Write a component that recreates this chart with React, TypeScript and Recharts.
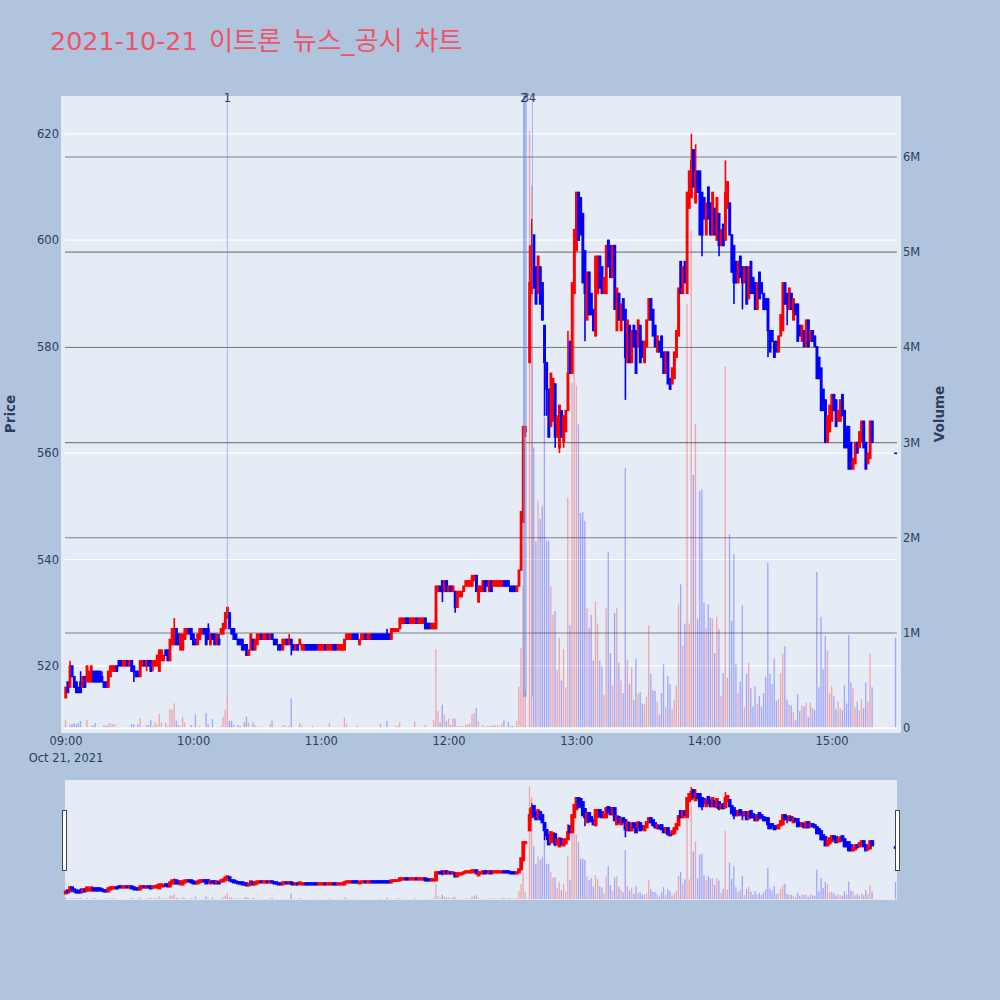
import React from 'react';
import { ComposedChart, Bar, XAxis, YAxis, CartesianGrid, ReferenceLine, ReferenceDot } from 'recharts';

// Each row: open, close, high, low, volume (thousands). Each array is one hour of one-minute rows.
const candles09 = [
[514,516,516,514,88],[517,515,517,515,7],[516,520,521,516,42],[520,518,520,518,42],[518,516,518,516,52],[517,515,517,515,42],[516,515,516,515,52],[517,515,519,515,77],[516,518,518,516,7],[518,516,518,516,7],
[517,520,520,517,91],[517,519,519,517,7],[517,520,520,517,25],[519,517,519,517,32],[519,517,519,517,56],[519,517,519,517,7],[519,517,519,517,14],[518,517,519,517,14],[517,516,517,516,32],[517,516,517,516,25],
[516,519,519,516,42],[518,520,520,518,56],[519,520,520,519,42],[519,520,520,519,42],[520,519,520,519,14],[521,520,521,520,10],[521,520,521,520,7],[520,521,521,520,7],[520,521,521,520,7],[521,520,521,520,7],
[520,521,521,520,10],[521,519,521,519,42],[520,519,520,517,42],[519,518,519,518,7],[519,518,519,518,42],[518,521,521,518,105],[520,521,521,520,7],[521,520,521,520,7],[520,521,521,519,35],[521,520,521,520,35],
[521,519,521,519,88],[520,521,521,519,25],[520,521,521,520,63],[520,522,522,520,42],[519,523,523,519,150],[521,523,523,521,60],[521,522,522,521,7],[523,522,523,522,56],[523,521,523,521,25],[521,525,525,521,203],
[524,527,527,524,193],[524,527,529,524,262],[527,524,527,524,80],[526,524,526,524,35],[523,526,526,523,25],[523,526,526,523,120],[525,527,527,525,60],[526,527,527,526,7],[527,526,527,526,7],[527,525,527,525,35],
];
const candles10 = [
[526,524,526,524,7],[525,524,525,524,143],[524,526,526,524,7],[525,527,527,525,25],[526,527,527,526,7],[527,526,527,526,7],[527,524,527,524,158],[527,525,528,525,42],[524,526,526,524,7],[526,525,526,525,98],
[526,524,526,524,7],[524,526,526,524,14],[525,524,526,524,14],[526,527,527,526,25],[526,528,528,526,120],[527,530,530,527,192],[529,531,531,529,346],[530,527,530,527,80],[527,526,527,526,80],[527,525,527,525,35],
[526,525,526,525,7],[525,524,525,524,35],[525,524,525,524,25],[525,523,525,523,7],[524,523,524,523,66],[524,522,524,522,122],[522,523,523,522,60],[523,526,526,523,7],[525,523,525,523,60],[523,525,525,523,32],
[524,526,526,524,18],[525,526,526,525,14],[526,525,526,525,14],[525,526,526,525,7],[525,526,526,525,7],[526,525,526,525,7],[525,526,526,525,42],[526,525,526,525,80],[525,524,525,524,7],[525,524,525,524,14],
[524,523,524,523,7],[524,523,524,523,7],[523,525,525,523,25],[524,525,525,524,32],[525,524,525,524,14],[524,525,526,524,25],[525,524,525,522,315],[524,523,524,523,7],[523,524,524,523,7],[524,523,524,523,7],
[524,525,525,524,56],[523,524,524,523,32],[523,524,524,523,7],[524,523,524,523,7],[524,523,524,523,7],[524,523,524,523,7],[524,523,524,523,25],[524,523,524,523,7],[524,523,524,523,7],[523,524,524,523,7],
];
const candles11 = [
[523,524,524,523,7],[523,524,524,523,7],[524,523,524,523,7],[523,524,524,523,7],[523,524,524,523,56],[523,524,524,523,7],[524,523,524,523,7],[524,523,524,523,7],[523,524,524,523,7],[523,524,524,523,7],
[523,524,524,523,7],[523,525,525,523,112],[525,526,526,525,50],[525,526,526,525,7],[525,526,526,525,7],[526,525,526,525,7],[526,525,526,525,7],[526,525,526,525,25],[524,525,525,524,7],[525,526,526,525,7],
[525,526,526,525,7],[526,525,526,525,7],[525,526,526,525,7],[525,526,526,525,7],[526,525,526,525,7],[526,525,526,525,7],[526,525,526,525,7],[526,525,526,525,7],[526,525,526,525,42],[526,525,526,525,7],
[526,525,526,525,7],[526,525,527,525,77],[526,525,526,525,7],[525,527,527,525,7],[526.5,527,527,526.5,7],[526.5,527,527,526.5,25],[526.5,527,527,526.5,25],[527,529,529,527,60],[528,529,529,528,7],[528,529,529,528,7],
[529,528,529,528,7],[529,528,529,528,7],[528,529,529,528,7],[528,529,529,528,7],[528,529,529,528,70],[529,528,529,528,7],[528,529,529,528,7],[528,529,529,528,7],[528,529,529,528,7],[529,527,529,527,32],
[528,527,528,527,7],[528,527,528,527,7],[527,528,528,527,7],[527,528,528,527,84],[527,535,535,527,830],[534,535,535,534,182],[535,534,535,534,60],[536,534,536,532,248],[534,536,536,534,143],[536,534,536,534,77],
];
const candles12 = [
[534,535,535,534,105],[535,534,535,534,35],[534,535,535,534,105],[534,531,534,530,100],[531,534,534,531,21],[533,534,534,533,21],[533,534,534,533,21],[534,535,535,534,25],[535,536,536,535,42],[535,536,536,535,42],
[535,536,536,535,49],[535,537,537,535,147],[536,537,537,536,158],[537,534,537,534,213],[532,535,535,532,77],[534,535,535,534,7],[534,536,536,534,35],[536,534,536,534,14],[536,535,536,535,21],[534,536,536,534,25],
[536,534,536,534,25],[535,536,536,535,32],[535,536,536,535,32],[535,536,536,535,32],[535,536,536,535,25],[535,536,536,535,46],[536,535,536,535,84],[536,535,536,535,14],[536,535,536,535,66],[535,534,535,534,25],
[535,534,535,534,25],[535,534,535,534,14],[534,535,535,534,77],[535,538,538,535,437],[538,549,549,538,840],[547,565,565,547,1500],[564,565,565,563,400],[null,null,null,null,0],[577,592,599,577,6270],[590,599,604,590,5700],
[601,591,601,591,2950],[595,588,595,588,1960],[590,597,597,590,2390],[595,588,595,588,2200],[592,585,592,585,2330],[584,577,584,567,3270],[577,572,577,567,1970],[572,563,572,563,1970],[565,575,575,565,1490],[566,574,574,566,1190],
[573,563,573,561,1230],[563,567,567,563,610],[561,569,569,560,950],[568,563,568,563,500],[562,567,567,561,830],[564,568,568,564,430],[568,575,583,568,2420],[581,575,581,575,1080],[575,592,592,575,3630],[590,602,602,590,4850],
];
const candles13 = [
[598,609,609,598,3600],[609,600,609,600,3190],[608,601,608,601,2260],[605,592,605,592,2270],[598,590,598,581,2180],[585,594,594,585,1260],[594,586,594,586,1050],[590,586,590,586,1190],[587,583,587,583,710],[582,597,597,582,1330],
[590,597,597,590,1100],[597,591,597,591,710],[595,590,595,590,650],[590,593,593,590,350],[590,599,599,590,1260],[600,595,600,595,1850],[599,593,599,593,790],[593,599,599,593,450],[599,587,599,587,1210],[583,591,591,583,1260],
[590,585,590,585,690],[583,588,588,583,500],[589,585,589,585,370],[587,578,587,570,2730],[577,585,585,577,720],[584,577,584,577,470],[577,583,583,577,640],[584,580,584,580,300],[583,575,583,575,730],[580,585,585,580,360],
[584,577,584,577,380],[581,578,581,578,260],[577,581,581,577,250],[580,585,585,580,330],[585,589,589,585,1080],[589,585,589,585,570],[587,582,587,582,400],[584,580,584,580,390],[579,582,582,579,280],[581,579,581,579,140],
[582,578,582,578,370],[579,575,579,575,670],[575,579,579,575,220],[579,573,579,573,550],[574,572,574,572,460],[573,576,576,573,200],[574,579,579,574,300],[578,583,583,578,450],[582,591,591,582,1300],[596,590,596,590,1510],
[590,595,595,590,870],[596,592,596,592,1100],[590,609,609,590,4460],[606,613,613,606,1100],[608,615,620,608,5220],[617,610,617,610,2660],[607,613,618,607,3200],[613,609,613,609,1150],[613,601,613,601,2490],[609,601,609,597,2510],
];
const candles14 = [
[608,604,608,604,1320],[601,607,607,601,1050],[610,604,610,604,1300],[607,601,607,601,1160],[601,609,609,601,1150],[606,601,606,601,790],[600,608,608,600,1170],[605,599,605,597,1040],[599,602,602,599,340],[603,599,603,599,580],
[600,609,615,600,3800],[606,611,611,606,530],[607,601,607,601,2040],[601,594,601,594,1130],[599,592,599,588,1830],[596,592,596,592,670],[592,596,596,592,370],[597,593,597,593,490],[595,592,595,587,1290],[592,595,595,592,220],
[595,588,595,588,570],[589,595,595,589,690],[596,590,596,590,420],[593,590,593,590,230],[592,587,592,587,440],[587,592,592,587,260],[594,589,594,589,340],[592,590,592,590,230],[590,587,590,587,370],[589,587,589,587,540],
[589,583,589,578,1740],[583,579,583,579,570],[583,581,583,581,460],[581,578,581,578,730],[581,579,581,579,290],[579,582,582,579,310],[582,586,586,582,580],[583,592,592,583,780],[592,588,592,588,860],[590,588,590,584,300],
[587,591,591,587,250],[590,587,590,587,240],[585,589,589,585,170],[588,586,588,586,90],[588,581,588,581,360],[584,582,584,582,180],[581,584,584,581,240],[583,580,583,580,230],[580,585,585,580,270],[585,580,585,580,120],
[581,583,583,581,270],[583,581,583,581,210],[582,580,582,580,190],[580,574,580,574,1640],[578,574,578,574,430],[576,568,576,568,1170],[572,568,572,568,620],[570,562,570,562,970],[562,567,567,562,810],[564,569,569,564,370],
];
const candles15 = [
[566,571,571,566,440],[571,568,571,568,340],[570,565,570,565,200],[566,568,568,566,280],[566,570,570,566,210],[571,567,571,567,190],[568,561,568,561,450],[565,561,565,561,260],[565,557,565,557,980],[562,557,562,557,480],
[557,559,559,557,420],[558,562,562,558,220],[562,560,562,560,280],[561,564,564,561,190],[562,566,566,562,310],[566,561,566,561,210],[562,557,562,557,480],[558,560,560,558,280],[559,566,566,559,780],[566,562,566,562,430],
];
const closingAuction = [560, 560, 560, 560, 950];
const closingMinute = 390;

const hourBlocks = [candles09, candles10, candles11, candles12, candles13, candles14, candles15];
const hourLabels = ['09:00', '10:00', '11:00', '12:00', '13:00', '14:00', '15:00'];
const hourTicks = [0, 60, 120, 180, 240, 300, 360];
const dateLabel = 'Oct 21, 2021';
const priceTicks = [520, 540, 560, 580, 600, 620];
const volumeTicks = [1000, 2000, 3000, 4000, 5000, 6000];
const annotationMinutes = [75.8, 215.2, 216, 219.2];
const annotationLabels = ['1', '2', '3', '4'];
const annotationTipPrice = 514.2;
const titleDate = '2021-10-21';
const titleText = ' 이트론 뉴스_공시 차트';

const minuteDomain = [-0.47, 390.5];
const priceDomain = [507.4, 627.1];
const volumeDomain = [-50, 6640];

const toRow = (r: any[], minute: number) => ({
  minute,
  open: r[0],
  close: r[1],
  high: r[2],
  low: r[3],
  volume: r[4],
  range: r[0] === null ? null : [r[3], r[2]],
  up: r[1] > r[0],
});

const rows = [
  ...hourBlocks.flatMap((block, h) => block.map((r, i) => toRow(r, h * 60 + i))),
  toRow(closingAuction, closingMinute),
];

const UP = '#ff0000';
const DOWN = '#0000ff';
const INK = '#2a3f5f';
const FONT = '"DejaVu Sans", sans-serif';

const CandleShape = (props: any) => {
  const { x, y, width, height, payload, edge = 1.3 } = props;
  if (!payload || !payload.range || !isFinite(y)) return null;
  const color = payload.up ? UP : DOWN;
  const span = payload.high - payload.low;
  const k = span > 0 ? height / span : 0;
  const top = y + (payload.high - Math.max(payload.open, payload.close)) * k;
  const bottom = y + (payload.high - Math.min(payload.open, payload.close)) * k;
  const cx = x + width / 2;
  return (
    <g>
      <line x1={cx} x2={cx} y1={y} y2={y + height} stroke={color} strokeWidth={1.6} />
      <rect x={x} y={top} width={width} height={Math.max(bottom - top, 0.4)} fill={color} stroke={color} strokeWidth={edge} />
    </g>
  );
};

const VolumeShape = (props: any) => {
  const { x, y, width, height, payload } = props;
  if (!payload || !(height > 0)) return null;
  return <rect x={x} y={y} width={width} height={height} fill={payload.up ? UP : DOWN} fillOpacity={0.3} />;
};

const TimeTick = (props: any) => {
  const { x, y, payload } = props;
  const idx = hourTicks.indexOf(payload.value);
  return (
    <g>
      <text x={x} y={y - 18} textAnchor="middle" fontSize={11.5} fontFamily={FONT} fill={INK}>{hourLabels[idx]}</text>
      {idx === 0 ? <text x={x} y={y - 1} textAnchor="middle" fontSize={11.5} fontFamily={FONT} fill={INK}>{dateLabel}</text> : null}
    </g>
  );
};

const volumeLabel = (v: number) => (v === 0 ? '0' : `${v / 1000}M`);

const rotated = (cx: number): React.CSSProperties => ({
  position: 'absolute',
  left: cx - 40,
  top: 404,
  width: 80,
  height: 20,
  lineHeight: '20px',
  textAlign: 'center',
  transform: 'rotate(-90deg)',
  fontFamily: FONT,
  fontWeight: 'bold',
  fontSize: 13.5,
  color: INK,
});

const handle = (left: number): React.CSSProperties => ({
  position: 'absolute',
  left,
  top: 810,
  width: 3,
  height: 59,
  background: '#fff',
  border: '1px solid #444',
});

export default function App() {
  const layer: React.CSSProperties = { position: 'absolute', left: 0, top: 0 };
  return (
    <div style={{ position: 'absolute', left: 0, top: 0, width: 1000, height: 1000, background: '#b0c4de', overflow: 'hidden' }}>
      <div style={{ position: 'absolute', left: 61, top: 96, width: 840, height: 637, background: '#e5ecf6' }} />
      <div style={{ position: 'absolute', left: 65, top: 780, width: 832, height: 120, background: '#e5ecf6' }} />
      <div style={{ position: 'absolute', left: 50, top: 23, lineHeight: '36px', color: '#ef5368', fontFamily: '"DejaVu Sans", "Noto Sans CJK KR", sans-serif', whiteSpace: 'pre' }}>
        <span style={{ fontSize: 25.4 }}>{titleDate}</span>
        <span style={{ fontSize: 26.3, wordSpacing: 3 }}>{titleText}</span>
      </div>
      <div style={rotated(9.5)}>Price</div>
      <div style={rotated(939)}>Volume</div>

      <div style={layer}>
        <ComposedChart width={1000} height={1000} data={rows} margin={{ top: 96, left: 5, right: 63, bottom: 237 }}>
          <XAxis xAxisId="vol" dataKey="minute" type="number" scale="linear" domain={minuteDomain} ticks={hourTicks} interval={0} height={30} tickSize={0} tickMargin={0} axisLine={false} tick={<TimeTick />} />
          <XAxis xAxisId="px" dataKey="minute" type="number" scale="linear" domain={minuteDomain} hide />
          <YAxis yAxisId="px" orientation="left" width={60} type="number" domain={priceDomain} ticks={priceTicks} interval={0} tickSize={0} tickMargin={6} axisLine={false} tick={{ fontSize: 11.5, fontFamily: FONT, fill: INK }} />
          <YAxis yAxisId="vol" orientation="right" width={40} type="number" domain={volumeDomain} ticks={[0, ...volumeTicks]} interval={0} tickSize={0} tickMargin={6} axisLine={false} tickFormatter={volumeLabel} tick={{ fontSize: 11.5, fontFamily: FONT, fill: INK }} />
          <CartesianGrid xAxisId="px" yAxisId="px" vertical={false} stroke="#ffffff" strokeWidth={1.2} horizontalValues={priceTicks} />
          <CartesianGrid xAxisId="vol" yAxisId="vol" vertical={false} stroke="#808080" strokeWidth={1.1} horizontalValues={volumeTicks} />
          <ReferenceLine xAxisId="vol" yAxisId="vol" y={0} stroke="#ffffff" strokeWidth={2} />
          <Bar xAxisId="vol" yAxisId="vol" dataKey="volume" barSize={1.3} isAnimationActive={false} shape={<VolumeShape />} />
          <Bar xAxisId="px" yAxisId="px" dataKey="range" barSize={1.6} isAnimationActive={false} shape={<CandleShape />} />
          {annotationMinutes.map((m) => (
            <ReferenceLine key={m} xAxisId="px" yAxisId="px" segment={[{ x: m, y: priceDomain[1] }, { x: m, y: annotationTipPrice }]} stroke="#6f86e0" strokeOpacity={0.55} strokeWidth={m === annotationMinutes[0] || m === annotationMinutes[3] ? 1 : 2} />
          ))}
          {annotationMinutes.map((m, i) => (
            <ReferenceDot key={`l${m}`} xAxisId="px" yAxisId="px" x={m} y={626.8} r={0} fill="none" stroke="none" ifOverflow="visible" label={{ value: annotationLabels[i], position: 'center', fontSize: 11.5, fontFamily: FONT, fill: INK }} />
          ))}
        </ComposedChart>
      </div>

      <div style={layer}>
        <ComposedChart width={1000} height={1000} data={rows} margin={{ top: 780, left: 65, right: 103, bottom: 100 }}>
          <XAxis xAxisId="vol" dataKey="minute" type="number" scale="linear" domain={minuteDomain} hide />
          <XAxis xAxisId="px" dataKey="minute" type="number" scale="linear" domain={minuteDomain} hide />
          <YAxis yAxisId="px" type="number" domain={priceDomain} hide />
          <YAxis yAxisId="vol" type="number" domain={volumeDomain} hide />
          <Bar xAxisId="vol" yAxisId="vol" dataKey="volume" barSize={1.3} isAnimationActive={false} shape={<VolumeShape />} />
          <Bar xAxisId="px" yAxisId="px" dataKey="range" barSize={1.6} isAnimationActive={false} shape={<CandleShape edge={2.2} />} />
        </ComposedChart>
      </div>

      <div style={handle(62)} />
      <div style={handle(895)} />
    </div>
  );
}
